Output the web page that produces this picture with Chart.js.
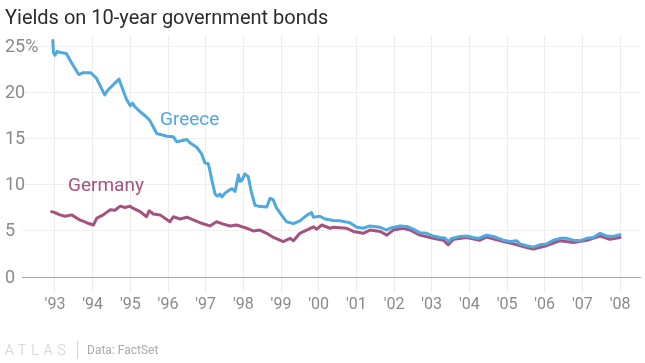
<!DOCTYPE html>
<html>
<head>
<meta charset="utf-8">
<script src="https://cdn.jsdelivr.net/npm/chart.js@4"></script>
<style>
  html, body { margin: 0; padding: 0; background: #fff; }
  #wrap { position: relative; width: 645px; height: 363px; overflow: hidden; font-family: Roboto, "Noto Sans", sans-serif; }
  #c { position: absolute; left: 0; top: 0; }
  .title { position: absolute; left: 5px; top: 5px; font-size: 20px; color: #2b2b2b; white-space: nowrap; }
  .lbl { position: absolute; font-size: 19px; white-space: nowrap; }
  .atlas { position: absolute; left: 5px; top: 342px; font-size: 14px; letter-spacing: 5px; color: #cfcfcf; font-weight: 300; }
  .bar { position: absolute; left: 77px; top: 341px; width: 1px; height: 18px; background: #d5d5d5; }
  .src { position: absolute; left: 87px; top: 343px; font-size: 12px; color: #aaa; }
</style>
</head>
<body>
<div id="wrap">
  <canvas id="c" width="645" height="363"></canvas>
  <div class="title">Yields on 10-year government bonds</div>
  <div class="lbl" style="left:160px; top:107px; color:#4fa9dc;">Greece</div>
  <div class="lbl" style="left:68px; top:173px; color:#a5527f;">Germany</div>
  <div class="atlas">ATLAS</div>
  <div class="bar"></div>
  <div class="src">Data: FactSet</div>
</div>
<script>
// Dates as fractional years
const greeceDates = [1992.94,1992.96,1993.00,1993.05,1993.15,1993.30,1993.45,1993.63,1993.75,1993.95,
  1994.10,1994.22,1994.32,1994.40,1994.55,1994.70,1994.78,1994.90,1995.00,1995.06,1995.12,1995.25,1995.40,1995.52,
  1995.70,1995.97,1996.14,1996.23,1996.36,1996.50,1996.58,1996.76,1996.89,1996.98,1997.07,1997.11,1997.16,1997.25,
  1997.31,1997.38,1997.43,1997.51,1997.65,1997.70,1997.78,1997.87,1997.91,1997.96,1998.04,1998.13,1998.22,1998.31,
  1998.40,1998.62,1998.71,1998.79,1998.88,1999.02,1999.15,1999.33,1999.50,1999.68,1999.81,1999.86,2000.03,2000.17,
  2000.39,2000.57,2000.83,2001.01,2001.18,2001.36,2001.63,2001.81,2001.89,2002.16,2002.34,2002.51,2002.69,2002.87,
  2003.04,2003.22,2003.35,2003.44,2003.53,2003.75,2003.93,2004.10,2004.24,2004.46,2004.64,2004.90,2005.08,2005.26,
  2005.34,2005.52,2005.70,2005.87,2006.05,2006.23,2006.41,2006.59,2006.76,2006.94,2007.12,2007.29,2007.47,2007.65,
  2007.82,2008.00];
const greeceYields = [25.7,24.4,24.1,24.5,24.4,24.3,23.2,22.0,22.2,22.2,
  21.6,20.6,19.8,20.3,20.9,21.5,20.6,19.3,18.6,18.9,18.5,18.0,17.5,17.0,
  15.6,15.3,15.25,14.7,14.8,14.95,14.6,14.1,13.4,12.4,12.3,11.6,10.6,9.0,
  8.8,9.0,8.7,9.1,9.5,9.6,9.3,11.1,10.4,10.5,11.2,10.9,9.1,7.8,
  7.7,7.6,8.55,8.4,7.5,6.7,6.0,5.8,6.1,6.7,7.0,6.5,6.6,6.3,
  6.15,6.1,5.9,5.4,5.3,5.55,5.4,5.1,5.3,5.55,5.5,5.2,4.8,4.75,
  4.45,4.3,4.25,3.85,4.2,4.4,4.45,4.3,4.2,4.55,4.4,4.0,3.85,3.95,
  3.6,3.4,3.25,3.5,3.6,4.0,4.2,4.2,4.0,3.95,4.2,4.3,4.75,4.45,
  4.4,4.6];

const germanyDates = [1992.91,1993.00,1993.13,1993.27,1993.44,1993.66,1993.84,1994.02,1994.11,1994.28,
  1994.46,1994.59,1994.73,1994.86,1994.99,1995.08,1995.26,1995.43,1995.50,1995.61,1995.79,1996.05,1996.14,1996.32,
  1996.50,1996.67,1996.85,1997.11,1997.29,1997.47,1997.65,1997.82,1998.09,1998.26,1998.44,1998.62,1998.80,1999.06,
  1999.24,1999.33,1999.50,1999.68,1999.86,1999.95,2000.08,2000.30,2000.39,2000.74,2000.92,2001.18,2001.36,2001.63,
  2001.81,2001.98,2002.24,2002.43,2002.69,2003.04,2003.31,2003.44,2003.58,2003.93,2004.28,2004.46,2004.90,2005.17,
  2005.52,2005.70,2006.05,2006.41,2006.76,2007.12,2007.47,2007.73,2008.00];
const germanyYields = [7.1,7.0,6.75,6.6,6.75,6.2,5.9,5.65,6.4,6.75,
  7.3,7.25,7.7,7.55,7.7,7.45,7.1,6.55,7.2,6.85,6.75,6.0,6.55,6.3,
  6.5,6.2,5.9,5.55,6.0,5.75,5.55,5.65,5.3,5.0,5.1,4.75,4.3,3.85,
  4.2,3.95,4.75,5.1,5.45,5.2,5.65,5.3,5.4,5.3,4.95,4.75,5.1,4.95,
  4.55,5.1,5.3,5.1,4.55,4.2,4.0,3.5,4.1,4.3,4.0,4.35,3.85,3.6,
  3.2,3.05,3.4,3.95,3.75,4.0,4.45,4.1,4.3];

const yearTicks = [1993,1994,1995,1996,1997,1998,1999,2000,2001,2002,2003,2004,2005,2006,2007,2008];
const yearLabels = ["'93","'94","'95","'96","'97","'98","'99","'00","'01","'02","'03","'04","'05","'06","'07","'08"];
const yTicks = [0,5,10,15,20,25];
const yLabels = ["0","5","10","15","20","25%"];

const toXY = (xs, ys) => xs.map((x, i) => ({x: x, y: ys[i]}));

// Draws the y tick labels left-aligned at the page edge, using the y scale for placement
const yLabelPlugin = {
  id: 'yLabelPlugin',
  afterDraw(chart) {
    const ctx = chart.ctx, y = chart.scales.y;
    ctx.save();
    ctx.font = '18px Roboto';
    ctx.fillStyle = '#8a8a8a';
    ctx.textAlign = 'left';
    ctx.textBaseline = 'middle';
    yTicks.forEach((v, i) => ctx.fillText(yLabels[i], 5, y.getPixelForValue(v) + 1));
    ctx.restore();
  }
};

new Chart(document.getElementById('c'), {
  type: 'line',
  data: {
    datasets: [
      { label: 'Greece', data: toXY(greeceDates, greeceYields), borderColor: '#4fa9dc', borderWidth: 3, pointRadius: 0, tension: 0, borderJoinStyle: 'round', borderCapStyle: 'round' },
      { label: 'Germany', data: toXY(germanyDates, germanyYields), borderColor: '#a5527f', borderWidth: 3, pointRadius: 0, tension: 0, borderJoinStyle: 'round', borderCapStyle: 'round' }
    ]
  },
  plugins: [yLabelPlugin],
  options: {
    responsive: false,
    animation: false,
    events: [],
    layout: { padding: { left: 5, right: 5, top: 35, bottom: 46 } },
    plugins: { legend: { display: false }, tooltip: { enabled: false }, title: { display: false } },
    scales: {
      x: {
        type: 'linear',
        min: 1992.124, max: 2008.53,
        afterBuildTicks: s => { s.ticks = yearTicks.map(v => ({value: v})); },
        afterFit: s => { s.height = 40; },
        ticks: {
          autoSkip: false, maxRotation: 0, padding: 2,
          color: '#8a8a8a', font: { family: 'Roboto', size: 16 },
          callback: v => yearLabels[yearTicks.indexOf(v)]
        },
        grid: { color: '#ececec', lineWidth: 1, tickLength: 16, drawTicks: true, tickColor: '#ececec' },
        border: { display: true, color: '#aaaaaa', width: 1 }
      },
      y: {
        min: 0, max: 26.3,
        afterBuildTicks: s => { s.ticks = yTicks.map(v => ({value: v})); },
        afterFit: s => { s.width = 17; },
        ticks: { display: false },
        grid: { color: '#efefef', lineWidth: 1, drawTicks: false },
        border: { display: false }
      }
    }
  }
});
</script>
</body>
</html>
